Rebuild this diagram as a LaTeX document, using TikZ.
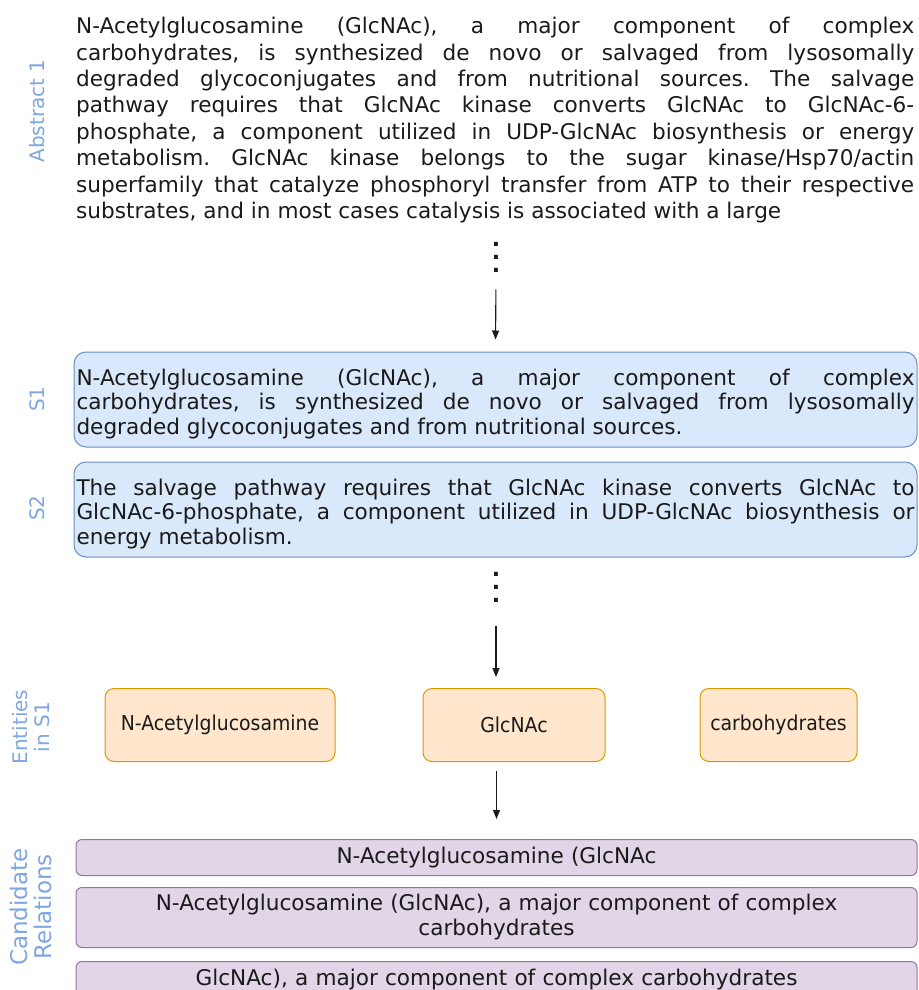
\documentclass[tikz,border=0pt]{standalone}
\usepackage{fontspec}
\setmainfont{DejaVu Sans}
\newfontfamily\entfont[FakeStretch=0.92]{DejaVu Sans}
\usetikzlibrary{arrows.meta,positioning,calc}
\definecolor{Ink}{HTML}{1A1A1A}
\definecolor{LabelBlue}{HTML}{7EA6E0}
\definecolor{SentFill}{HTML}{DAE8FC}
\definecolor{SentLine}{HTML}{6C8EBF}
\definecolor{EntFill}{HTML}{FFE6CC}
\definecolor{EntLine}{HTML}{D79B00}
\definecolor{RelFill}{HTML}{E1D5E7}
\definecolor{RelLine}{HTML}{9673A6}
\hyphenpenalty=10000
\exhyphenpenalty=10000
\frenchspacing
\tikzset{
  abstract/.style={text width=838pt,align=justify,inner sep=0pt,text=Ink,font=\fontsize{21.6}{26.4}\selectfont},
  sentence/.style={draw=SentLine,fill=SentFill,line width=1pt,rounded corners=12pt,text width=838pt,text height=25pt,minimum height=95pt,align=justify,inner xsep=2.5pt,text=Ink,font=\fontsize{21.6}{24.6}\selectfont},
  entity/.style={draw=EntLine,fill=EntFill,line width=1pt,rounded corners=9pt,minimum height=73pt,align=center,text=Ink,font=\entfont\fontsize{20.5}{23}\selectfont},
  relation/.style={draw=RelLine,fill=RelFill,line width=1pt,rounded corners=6pt,text width=835pt,inner xsep=3pt,align=center,text=Ink,font=\fontsize{21.6}{25}\selectfont},
  sidelabel/.style={rotate=90,text=LabelBlue,align=center,inner sep=0pt,font=\fontsize{20}{22}\selectfont},
  dotstack/.style={align=center,inner sep=0pt,text=Ink,font=\bfseries\fontsize{22}{13}\selectfont},
  flow/.style={-{Triangle[length=9pt,width=7pt]},draw=Ink,line width=1.1pt}
}
\begin{document}
\begin{tikzpicture}[x=1pt,y=-1pt,node distance=14pt]
  \useasboundingbox (0,0) rectangle (918,990);
  \clip (0,0) rectangle (918,990);
  % abstract text
  \node[abstract,anchor=north west] (abs) at (76,17) {N-Acetylglucosamine (GlcNAc), a major component of complex\linebreak
    carbohydrates, is synthesized de novo or salvaged from lysosomally\linebreak
    degraded glycoconjugates and from nutritional sources. The salvage\linebreak
    pathway requires that GlcNAc kinase converts GlcNAc to GlcNAc-6-\linebreak
    phosphate, a component utilized in UDP-GlcNAc biosynthesis or energy\linebreak
    metabolism. GlcNAc kinase belongs to the sugar kinase/Hsp70/actin\linebreak
    superfamily that catalyze phosphoryl transfer from ATP to their respective\linebreak
    substrates, and in most cases catalysis is associated with a large};
  \node[sidelabel] (lblabs) at (37,111) {Abstract 1};
  \node[dotstack] (dots1) at (496,257) {.\\.\\.};
  % sentences
  \node[sentence] (s1) at (495.5,399.5) {N-Acetylglucosamine (GlcNAc), a major component of complex\linebreak
    carbohydrates, is synthesized de novo or salvaged from lysosomally\linebreak
    degraded glycoconjugates and from nutritional sources.};
  \node[sentence,below=of s1] (s2) {The salvage pathway requires that GlcNAc kinase converts GlcNAc to\linebreak
    GlcNAc-6-phosphate, a component utilized in UDP-GlcNAc biosynthesis or\linebreak
    energy metabolism.};
  \node[sidelabel] (lbls1) at (37,399) {S1};
  \node[sidelabel] (lbls2) at (37,508) {S2};
  \node[dotstack] (dots2) at (496,587) {.\\.\\.};
  % entities
  \node[entity,minimum width=230pt] (ent1) at (220,725) {N-Acetylglucosamine};
  \node[entity,minimum width=182pt] (ent2) at (514,725) {GlcNAc};
  \node[entity,minimum width=157pt] (ent3) at (778.5,725) {carbohydrates};
  \node[sidelabel] (lblent) at (31,727) {Entities\\in S1};
  % candidate relations
  \node[relation,minimum height=36pt] (rel1) at (496.5,857.5) {N-Acetylglucosamine (GlcNAc};
  \node[relation,minimum height=60pt,below=11pt of rel1] (rel2) {N-Acetylglucosamine (GlcNAc), a major component of complex\\carbohydrates};
  \node[relation,minimum height=36pt,below=13pt of rel2] (rel3) {GlcNAc), a major component of complex carbohydrates};
  \node[sidelabel,font=\fontsize{23}{24}\selectfont] (lblrel) at (31,907) {Candidate\\Relations};
  % arrows
  \draw[flow,shorten <=17pt,shorten >=12pt] (dots1.south) -- (s1.north);
  \draw[flow,shorten <=24pt,shorten >=11pt] (dots2.south) -- (dots2.south |- ent2.north);
  \draw[flow,shorten <=9pt,shorten >=20pt] (rel1.north |- ent2.south) -- (rel1.north);
\end{tikzpicture}
\end{document}
